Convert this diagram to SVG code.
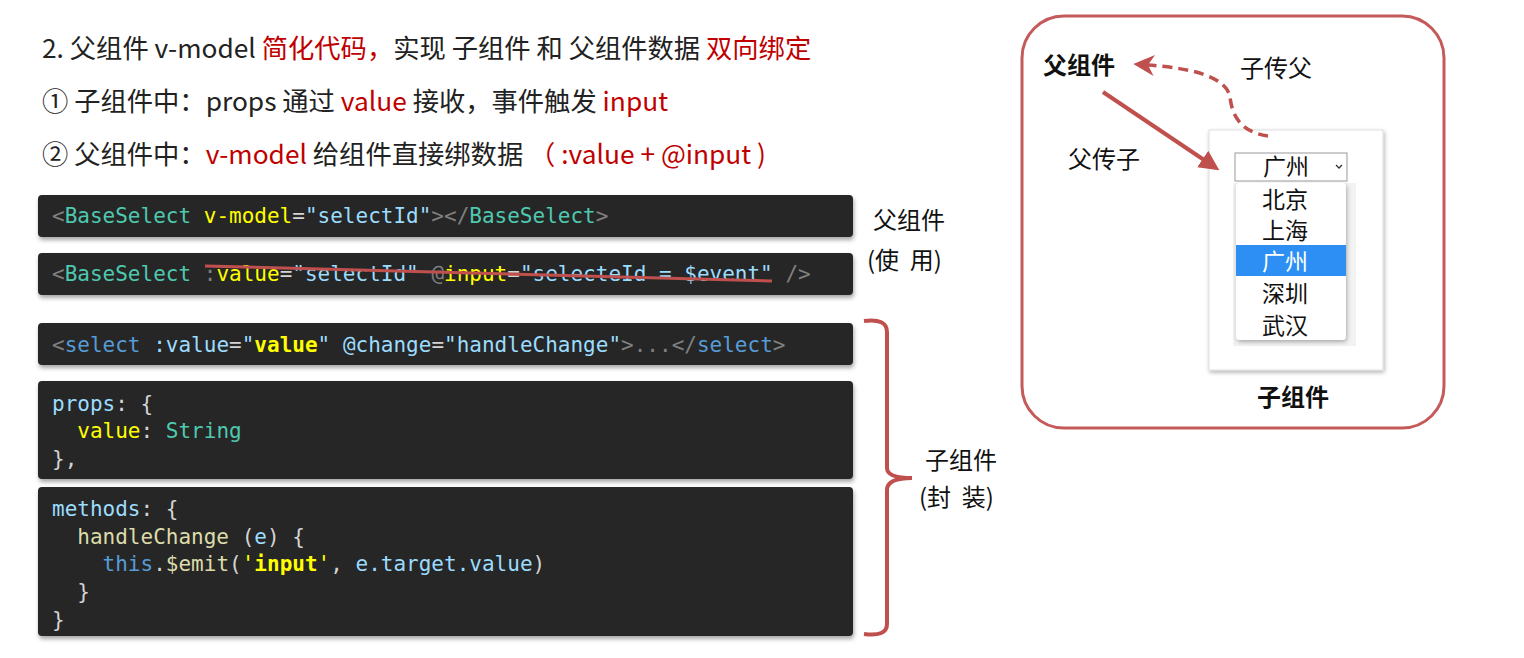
<svg xmlns="http://www.w3.org/2000/svg" width="1524" height="658" viewBox="0 0 1524 658">
<style>
.t{font-family:"Noto Sans CJK SC","Noto Sans",sans-serif;font-size:26.3px;fill:#222}
.r{fill:#c00000}
.c{font-family:"DejaVu Sans Mono","Liberation Mono",monospace;font-size:21px;fill:#d4d4d4}
.g{fill:#808080}.tn{fill:#4ec9b0}.y{fill:#ffff00}.lb{fill:#9cdcfe}.b{fill:#569cd6}.fy{fill:#dcdcaa}
.code{fill:#262626}
.lab{font-family:"Noto Sans CJK SC",sans-serif;font-size:24px;fill:#111}
.bold{font-weight:bold}
.red{stroke:#c0504d;fill:none}
.opt{font-family:"Noto Sans CJK SC",sans-serif;font-size:23px;fill:#111}
</style>
<defs>
<filter id="sh" x="-5%" y="-20%" width="110%" height="150%"><feDropShadow dx="1" dy="3" stdDeviation="2" flood-color="#000" flood-opacity="0.35"/></filter>
<filter id="sh2" x="-10%" y="-10%" width="120%" height="120%"><feDropShadow dx="1" dy="2" stdDeviation="2" flood-color="#000" flood-opacity="0.3"/></filter>
<marker id="ah" viewBox="0 0 10 10" refX="8" refY="5" markerWidth="5" markerHeight="5" orient="auto"><path d="M0,0 L10,5 L0,10 Z" fill="#c0504d"/></marker>
<marker id="ah2" viewBox="0 0 10 10" refX="3" refY="5" markerWidth="6" markerHeight="6" orient="auto-start-reverse"><path d="M0,0 L10,5 L0,10 L3,5 Z" fill="#c0504d"/></marker>
</defs>
<rect width="1524" height="658" fill="#fff"/>

<g id="heading">
<text class="t" x="42" y="58">2. 父组件 v-model <tspan class="r">简化代码，</tspan>实现 子组件 和 父组件数据 <tspan class="r">双向绑定</tspan></text>
<text class="t" x="42" y="111">① 子组件中：props 通过 <tspan class="r">value</tspan> 接收，事件触发 <tspan class="r">input</tspan></text>
<text class="t" x="42" y="164">② 父组件中：<tspan class="r">v-model</tspan> 给组件直接绑数据 <tspan class="r">  （ :value + @input )</tspan></text>
</g>

<g id="code-parent-1">
<rect class="code" x="38" y="195" width="815" height="42" rx="4" filter="url(#sh)"/>
<text class="c" x="52" y="223"><tspan class="g">&lt;</tspan><tspan class="tn">BaseSelect</tspan> <tspan class="y">v-model</tspan>=<tspan class="lb">"selectId"</tspan><tspan class="g">&gt;&lt;/</tspan><tspan class="tn">BaseSelect</tspan><tspan class="g">&gt;</tspan></text>
</g>
<g id="code-parent-2">
<rect class="code" x="38" y="253" width="815" height="42" rx="4" filter="url(#sh)"/>
<text class="c" x="52" y="281"><tspan class="g">&lt;</tspan><tspan class="tn">BaseSelect</tspan> <tspan class="g">:</tspan><tspan class="y">value</tspan>=<tspan class="lb">"selectId"</tspan> <tspan class="g">@</tspan><tspan class="y">input</tspan>=<tspan class="lb">"selecteId = $event"</tspan> <tspan class="g">/&gt;</tspan></text>
<line x1="205" y1="266" x2="772" y2="281" stroke="#c0504d" stroke-width="3"/>
</g>
<g id="code-child-1">
<rect class="code" x="38" y="323" width="815" height="42" rx="4" filter="url(#sh)"/>
<text class="c" x="52" y="352"><tspan class="g">&lt;</tspan><tspan class="b">select</tspan> <tspan class="lb">:value</tspan>=<tspan class="lb">"</tspan><tspan class="y" font-weight="bold">value</tspan><tspan class="lb">"</tspan> <tspan class="lb">@change</tspan>=<tspan class="lb">"handleChange"</tspan><tspan class="g">&gt;...&lt;/</tspan><tspan class="b">select</tspan><tspan class="g">&gt;</tspan></text>
</g>
<g id="code-child-2">
<rect class="code" x="38" y="381" width="815" height="98" rx="4" filter="url(#sh)"/>
<text class="c" x="52" y="411"><tspan class="lb">props</tspan>: {</text>
<text class="c" x="52" y="438" xml:space="preserve">  <tspan class="y">value</tspan>: <tspan class="tn">String</tspan></text>
<text class="c" x="52" y="466">},</text>
</g>
<g id="code-child-3">
<rect class="code" x="38" y="487" width="815" height="149" rx="4" filter="url(#sh)"/>
<text class="c" x="52" y="516"><tspan class="lb">methods</tspan>: {</text>
<text class="c" x="52" y="544" xml:space="preserve">  <tspan class="fy">handleChange</tspan> (<tspan class="lb">e</tspan>) {</text>
<text class="c" x="52" y="571" xml:space="preserve">    <tspan class="b">this</tspan>.<tspan class="fy">$emit</tspan>(<tspan class="y">'</tspan><tspan class="y" font-weight="bold">input</tspan><tspan class="y">'</tspan>, <tspan class="lb">e.target.value</tspan>)</text>
<text class="c" x="52" y="599" xml:space="preserve">  }</text>
<text class="c" x="52" y="627">}</text>
</g>

<g id="label-parent-use">
<text class="lab" x="873" y="229">父组件</text>
<text class="lab" x="867" y="269" xml:space="preserve">(使  用)</text>
</g>
<g id="label-child-wrap">
<path class="red" stroke-width="4" d="M864,321 Q887,318 887,332 L887,468 Q887,478 912,478 Q887,478 887,490 L887,624 Q887,637 864,634"/>
<text class="lab" x="925" y="469">子组件</text>
<text class="lab" x="919" y="506" xml:space="preserve">(封  装)</text>
</g>

<g id="panel">
<rect x="1022" y="16" width="422" height="412" rx="42" fill="none" stroke="#c55a5a" stroke-width="3"/>
</g>
<g id="node-parent">
<text class="lab bold" x="1043" y="74">父组件</text>
</g>
<g id="node-child">
<rect x="1209" y="130" width="174" height="240" fill="#fff" stroke="#ddd" stroke-width="1" filter="url(#sh2)"/>
<rect x="1233" y="183" width="123" height="163" fill="#f2f2f2"/>
<rect x="1235" y="153" width="112" height="28" fill="#fff" stroke="#999" stroke-width="1"/>
<text class="opt" x="1263" y="175" font-size="22">广州</text>
<path d="M1336,165 L1339,168 L1342,165" fill="none" stroke="#333" stroke-width="1.3"/>
<rect x="1236" y="183" width="110" height="157" rx="4" fill="#fff" filter="url(#sh2)"/>
<rect x="1236" y="245" width="110" height="31" fill="#2d8ff4"/>
<text class="opt" x="1262" y="208">北京</text>
<text class="opt" x="1262" y="239">上海</text>
<text class="opt" x="1262" y="270" style="fill:#fff">广州</text>
<text class="opt" x="1262" y="302">深圳</text>
<text class="opt" x="1262" y="334">武汉</text>
<text class="lab bold" x="1257" y="406">子组件</text>
</g>
<g id="connectors">
<line class="red" x1="1103" y1="92" x2="1216" y2="168" stroke-width="4" marker-end="url(#ah)"/>
<path class="red" stroke-width="3.5" stroke-dasharray="10,6" d="M1268,136 C1240,132 1232,115 1230,97 C1226,76 1190,68 1148,65" marker-end="url(#ah2)"/>
<text class="lab" x="1240" y="77">子传父</text>
<text class="lab" x="1068" y="168">父传子</text>
</g>
</svg>
